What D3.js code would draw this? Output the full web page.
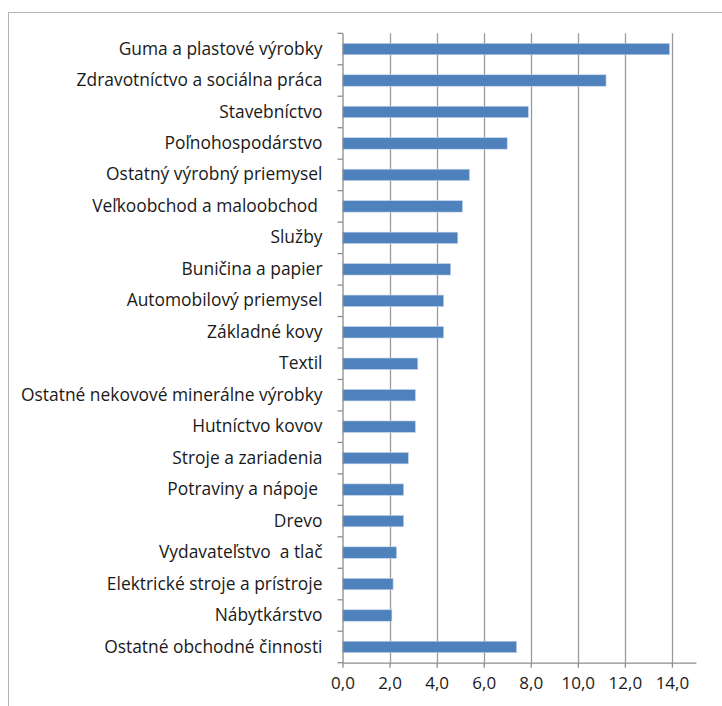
<!DOCTYPE html>
<html><head><meta charset="utf-8">
<script src="https://cdn.jsdelivr.net/npm/d3@7"></script>
<style>
html,body{margin:0;padding:0;background:#fff;}
svg text{font-family:"Open Sans","Lato",sans-serif;white-space:pre;}
</style></head>
<body><div id="chart"></div>
<script>
const categories = [
  "Guma a plastové výrobky",
  "Zdravotníctvo a sociálna práca",
  "Stavebníctvo",
  "Poľnohospodárstvo",
  "Ostatný výrobný priemysel",
  "Veľkoobchod a maloobchod ",
  "Služby",
  "Buničina a papier",
  "Automobilový priemysel",
  "Základné kovy",
  "Textil",
  "Ostatné nekovové minerálne výrobky",
  "Hutníctvo kovov",
  "Stroje a zariadenia",
  "Potraviny a nápoje ",
  "Drevo",
  "Vydavateľstvo  a tlač",
  "Elektrické stroje a prístroje",
  "Nábytkárstvo",
  "Ostatné obchodné činnosti"
];
const values = [13.9, 11.2, 7.9, 7.0, 5.4, 5.1, 4.9, 4.6, 4.3, 4.3, 3.2, 3.1, 3.1, 2.8, 2.6, 2.6, 2.3, 2.15, 2.1, 7.4];
const tickValues = [0, 2, 4, 6, 8, 10, 12, 14];
const xMax = 15;

const W = 722, H = 706;
const svg = d3.select("#chart").append("svg").attr("width", W).attr("height", H);

// outer frame (extends beyond right/bottom edge)
svg.append("rect").attr("x", 8.5).attr("y", 12.5).attr("width", 730).attr("height", 710)
  .attr("fill", "none").attr("stroke", "#b3b3b3").attr("stroke-width", 1);

const mLeft = 342.5, mTop = 33.3, mBottom = 662.7;
const x = d3.scaleLinear().domain([0, xMax]).range([mLeft, mLeft + 23.53 * xMax]);
const y = d3.scaleBand().domain(categories).range([mTop, mBottom]).paddingInner(1.75/2.75).paddingOuter(1.75/2.75/2);

// gridlines
svg.append("g").selectAll("line").data(tickValues.slice(1)).join("line")
  .attr("x1", d => Math.round(x(d)) + 0.5).attr("x2", d => Math.round(x(d)) + 0.5)
  .attr("y1", mTop).attr("y2", mBottom)
  .attr("stroke", "#9a9a9a").attr("stroke-width", 1.3);

// bars
svg.append("g").selectAll("rect").data(categories).join("rect")
  .attr("x", x(0)).attr("y", (d) => y(d))
  .attr("width", (d, i) => x(values[i]) - x(0))
  .attr("height", y.bandwidth())
  .attr("fill", "#4f81bd").attr("stroke", "#c6d6ec").attr("stroke-width", 0.6);

// x axis
const xAxis = d3.axisBottom(x).tickValues(tickValues).tickSize(5).tickPadding(9)
  .tickFormat(d => d3.format(".1f")(d).replace(".", ","));
const gx = svg.append("g").attr("transform", `translate(0,${mBottom})`).call(xAxis);
gx.select(".domain").attr("d", `M${x(0)},0.5H${x(xMax)+1}`).attr("stroke", "#8c8c8c").attr("stroke-width", 1.3);
gx.selectAll(".tick line").attr("stroke", "#8c8c8c").attr("stroke-width", 1.3);
gx.selectAll(".tick text").attr("font-size", 17).attr("fill", "#1a1a1a");

// y axis
const yAxis = d3.axisLeft(y).tickSize(0).tickPadding(20);
const gy = svg.append("g").attr("transform", `translate(${mLeft},0)`).call(yAxis);
gy.select(".domain").attr("d", `M0.5,${mTop}V${mBottom}`).attr("stroke", "#8c8c8c").attr("stroke-width", 1.3);
gy.selectAll(".tick text").attr("font-size", 17.4).attr("fill", "#1a1a1a");
// y boundary ticks
const bounds = d3.range(categories.length + 1).map(i => mTop + i * (mBottom - mTop) / categories.length);
svg.append("g").selectAll("line").data(bounds).join("line")
  .attr("x1", mLeft - 5).attr("x2", mLeft).attr("y1", d => d).attr("y2", d => d)
  .attr("stroke", "#8c8c8c").attr("stroke-width", 1.3);
</script></body></html>
